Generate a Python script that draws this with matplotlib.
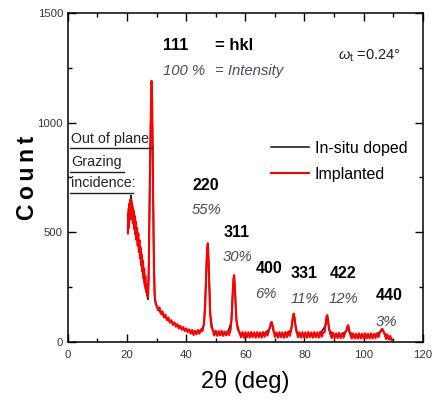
import matplotlib
matplotlib.use("Agg")
import matplotlib.pyplot as plt
from matplotlib.ticker import MultipleLocator

# XRD scan, implanted sample (red): 2theta (deg) and counts
red_tt = [20.3, 20.4, 20.5, 20.6, 20.7, 20.8, 20.9, 21.0, 21.1, 21.2, 21.3, 21.4,
          21.6, 21.8, 22.0, 22.2, 22.4, 22.6, 22.8, 23.0, 23.2, 23.4, 23.6, 23.8, 24.0,
          24.2, 24.4, 24.6, 24.8, 25.0, 25.2, 25.4, 25.6, 25.8, 26.0, 26.2, 26.4, 26.6,
          26.8, 27.0, 27.1,
          27.3, 27.5, 27.7, 27.9, 28.1, 28.3, 28.5, 28.7, 28.9, 29.1, 29.3, 29.5, 29.7,
          30.0, 30.5, 31.0, 31.5, 32.0, 32.5, 33.0, 33.5, 34.0, 34.5, 35.0, 35.5, 36.0,
          36.5, 37.0, 37.5, 38.0, 38.5, 39.0, 39.5, 40.0, 40.5, 41.0, 41.5, 42.0, 42.5,
          43.0, 43.5, 44.0, 44.5, 45.0, 45.5,
          46.0, 46.4, 46.8, 47.1, 47.3, 47.5, 47.8, 48.1, 48.5, 49.0,
          49.5, 50.0, 50.5, 51.0, 51.5, 52.0, 52.5, 53.0, 53.5, 54.0, 54.5, 55.0,
          55.4, 55.7, 56.0, 56.2, 56.4, 56.7, 57.0, 57.4, 58.0,
          58.5, 59.0, 59.5, 60.0, 60.5, 61.0, 61.5, 62.0, 62.5, 63.0, 63.5, 64.0, 64.5,
          65.0, 65.5, 66.0, 66.5, 67.0, 67.5,
          68.0, 68.5, 68.9, 69.3, 69.7,
          70.0, 70.5, 71.0, 71.5, 72.0, 72.5, 73.0, 73.5, 74.0, 74.5, 75.0,
          75.5, 75.9, 76.2, 76.4, 76.7, 77.0, 77.4,
          77.8, 78.3, 78.8, 79.3, 79.8, 80.3, 80.8, 81.3, 81.8, 82.3, 82.8, 83.3, 83.8,
          84.3, 84.8, 85.3, 85.8, 86.3,
          86.8, 87.1, 87.4, 87.7, 88.0, 88.3, 88.7,
          89.2, 89.7, 90.2, 90.7, 91.2, 91.7, 92.2, 92.7, 93.2, 93.7,
          94.1, 94.5, 94.8, 95.1, 95.5,
          96.0, 96.5, 97.0, 97.5, 98.0, 98.5, 99.0, 99.5, 100.0, 100.5, 101.0, 101.5,
          102.0, 102.5, 103.0, 103.5, 104.0, 104.5, 105.0,
          105.5, 105.9, 106.3, 106.7, 107.1,
          107.6, 108.0, 108.5, 109.0, 109.4, 109.7]
red_counts = [495, 590, 520, 610, 540, 630, 560, 640, 570, 650, 575, 640,
              560, 620, 540, 600, 515, 575, 490, 550, 465, 520, 440, 495, 410,
              465, 380, 430, 350, 400, 320, 370, 290, 335, 260, 300, 235, 265,
              215, 235, 205,
              300, 480, 700, 900, 1080, 1190, 1100, 850, 560, 330, 220, 185, 175,
              165, 145, 158, 128, 140, 112, 125, 100, 112, 88, 100, 78, 90,
              70, 82, 62, 74, 56, 68, 50, 62, 45, 58, 38, 55, 32,
              52, 35, 55, 38, 58, 50,
              80, 150, 320, 430, 450, 400, 250, 130, 70, 55,
              30, 52, 28, 50, 30, 52, 28, 48, 30, 50, 32, 55,
              110, 220, 290, 305, 270, 170, 100, 60, 45,
              22, 46, 20, 45, 22, 44, 20, 46, 22, 44, 20, 45, 22,
              44, 20, 46, 24, 45, 30,
              55, 80, 92, 72, 45,
              24, 44, 20, 45, 22, 44, 20, 45, 22, 46, 28,
              55, 100, 125, 130, 108, 70, 45,
              22, 44, 20, 45, 22, 44, 20, 46, 22, 44, 20, 45, 22,
              44, 20, 46, 24, 44,
              45, 80, 115, 123, 100, 62, 38,
              18, 42, 18, 40, 18, 42, 18, 40, 20, 42,
              50, 72, 77, 55, 32,
              16, 40, 16, 38, 16, 40, 16, 38, 16, 40, 16, 38,
              16, 40, 16, 38, 18, 40, 22,
              45, 55, 60, 50, 35,
              14, 35, 12, 28, 10, 8]

# XRD scan, in-situ doped sample (black)
black_tt = [20.4, 20.7, 21.0, 21.3, 21.6, 22.0, 22.5, 23.0, 24.0, 25.0, 26.0, 26.7,
            27.1, 27.3, 27.7, 28.0, 28.3, 28.6, 29.0, 29.4, 30.0, 31, 32, 33, 34, 35,
            36, 37, 38, 39, 40, 41, 42, 43, 44, 45, 46, 46.6, 47.0, 47.3, 47.7, 48.2,
            49, 50, 52, 54, 55.2, 55.7, 56.1, 56.5, 57.0, 58, 60, 62, 64, 66, 68.2,
            68.9, 69.6, 71, 73, 75.5, 76.4, 77.3, 79, 82, 85, 87.1, 87.7, 88.3, 90,
            92, 94.2, 94.7, 95.2, 97, 100, 103, 105.6, 106.3, 107.0, 108.5, 109.6]
black_counts = [500, 610, 590, 668, 640, 590, 540, 500, 430, 350, 260, 215,
                195, 290, 740, 1000, 1150, 950, 450, 200, 165, 140, 125, 112, 100, 90,
                82, 75, 68, 62, 56, 50, 45, 44, 46, 50, 80, 250, 400, 440, 330, 120,
                50, 40, 38, 40, 90, 210, 295, 240, 95, 40, 33, 33, 33, 34, 60,
                88, 45, 33, 32, 55, 125, 45, 32, 32, 32, 75, 118, 55, 30,
                30, 50, 72, 45, 28, 27, 27, 45, 57, 40, 20, 9]

# reflection labels
hkl = ["220", "311", "400", "331", "422", "440"]
rel_int = ["55%", "30%", "6%", "11%", "12%", "3%"]
hkl_x = [46.6, 57.0, 68.1, 79.9, 93.0, 108.7]
hkl_y = [714, 501, 335, 312, 312, 214]
int_x = [46.9, 57.4, 67.0, 80.1, 93.3, 107.8]
int_y = [600, 388, 221, 198, 198, 92]

assert len(red_tt) == len(red_counts) and len(black_tt) == len(black_counts)

plt.rcParams["font.family"] = ["Liberation Sans", "DejaVu Sans"]
plt.rcParams["mathtext.fontset"] = "custom"
plt.rcParams["mathtext.rm"] = "Liberation Sans"
plt.rcParams["mathtext.it"] = "Liberation Sans:italic"

fig = plt.figure(figsize=(4.35, 4.01), dpi=100)
ax = fig.add_axes([0.156, 0.147, 0.816, 0.821])

ax.plot(black_tt, black_counts, color="#222222", lw=1.2, label="In-situ doped")
ax.plot(red_tt, red_counts, color="#ff0000", lw=1.5, label="Implanted")

ax.set_xlim(0, 120)
ax.set_ylim(0, 1500)
ax.xaxis.set_major_locator(MultipleLocator(20))
ax.xaxis.set_minor_locator(MultipleLocator(10))
ax.yaxis.set_major_locator(MultipleLocator(500))
ax.yaxis.set_minor_locator(MultipleLocator(250))
ax.tick_params(which="both", direction="in", top=True, right=True,
               labelsize=8.2, labelcolor="#333344", width=1)
ax.tick_params(which="major", length=6)
ax.tick_params(which="minor", length=3)
ax.tick_params(axis="x", pad=6)
for s in ax.spines.values():
    s.set_linewidth(1.1)

ax.set_xlabel("2\u03b8 (deg)", fontsize=17, labelpad=7)
ax.set_ylabel("C\u2009o\u2009u\u2009n\u2009t", fontsize=16.5, fontweight="bold",
              labelpad=-1)

# header: hkl / intensity key
ax.text(32.1, 1350, "111", fontsize=11.5, fontweight="bold", va="center")
ax.text(49.7, 1350, "= hkl", fontsize=12, fontweight="bold", va="center")
ax.text(32.1, 1236, "100 %", fontsize=10.7, style="italic", color="#4a4a5a", va="center")
ax.text(49.7, 1236, "= Intensity", fontsize=10.7, style="italic", color="#4a4a5a",
        va="center")
ax.text(91.2, 1305, r"$\omega_\mathrm{t}$ =0.24°", fontsize=10.5, color="#222222",
        va="center")

for lab, x, y in zip(hkl, hkl_x, hkl_y):
    ax.text(x, y, lab, fontsize=11.5, fontweight="bold", ha="center", va="center")
for lab, x, y in zip(rel_int, int_x, int_y):
    ax.text(x, y, lab, fontsize=10.7, style="italic", color="#4a4a5a",
            ha="center", va="center")

# geometry note, underlined
ax.text(1.0, 895, "Out of plane", fontsize=10.3, color="#222233", va="bottom")
ax.text(1.0, 787, "Grazing", fontsize=10.3, color="#222233", va="bottom")
ax.text(1.0, 691, "incidence:", fontsize=10.3, color="#222233", va="bottom")
ax.plot([0.7, 28.4], [882, 882], color="#222222", lw=1)
ax.plot([0.7, 18.9], [773, 773], color="#222222", lw=1)
ax.plot([0.7, 22.0], [677, 677], color="#222222", lw=1)

ax.legend(loc="upper left", bbox_to_anchor=(0.572, 0.612), frameon=False,
          fontsize=11.5, handlelength=2.4, handletextpad=0.35, labelspacing=0.7,
          borderpad=0, borderaxespad=0)

fig.savefig("out.png", dpi=100)
